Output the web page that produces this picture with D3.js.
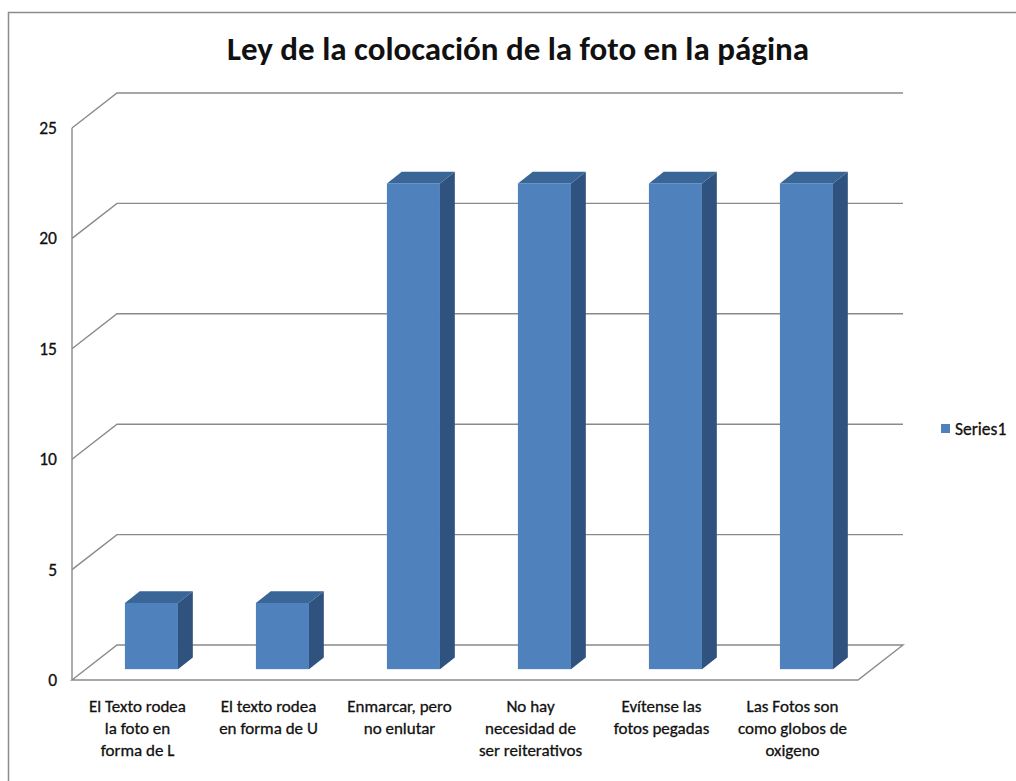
<!DOCTYPE html>
<html>
<head>
<meta charset="utf-8">
<script src="https://cdn.jsdelivr.net/npm/d3@7"></script>
<style>
  body { margin: 0; background: #fff; }
  text { font-family: Carlito, Lato, "Open Sans", sans-serif; fill: #111; }
  .lbl { stroke: #111; stroke-width: 0.3; }
</style>
</head>
<body>
<svg id="chart" width="1016" height="781"></svg>
<script>
// ----------- DATA ------------
const categories = [
    ["El Texto rodea", "la foto en", "forma de L"],
    ["El texto rodea", "en forma de U"],
    ["Enmarcar, pero", "no enlutar"],
    ["No hay", "necesidad de", "ser reiterativos"],
    ["Evítense las", "fotos pegadas"],
    ["Las Fotos son", "como globos de", "oxigeno"]
];
const values = [3, 3, 22, 22, 22, 22];
const yTicks = [0, 5, 10, 15, 20, 25];
const seriesName = "Series1";
const title = "Ley de la colocación de la foto en la página";

// ----------- LAYOUT ------------
const svg = d3.select("#chart");
const depthX = 45, depthY = -35;   // offset of the back wall
const barFront = 0.31, barBack = 0.64; // bar position inside the depth

const x = d3.scaleBand()
    .domain(d3.range(categories.length))
    .range([72, 858]);
const y = d3.scaleLinear()
    .domain([0, 25])
    .range([680, 128]);

const barW = x.bandwidth() * 0.405;
const gridColor = "#8a8a8a";

// chart frame (top and left edges)
svg.append("path")
    .attr("d", "M8.5,1016 L8.5,12.5 L1016,12.5")
    .attr("fill", "none")
    .attr("stroke", "#8c8c8c")
    .attr("stroke-width", 1.5);

// title
svg.append("text")
    .attr("x", 518)
    .attr("y", 60)
    .attr("text-anchor", "middle")
    .attr("font-size", 33)
    .attr("font-weight", "bold")
    .text(title);

// ----------- WALLS / GRID ------------
const grid = svg.append("g").attr("fill", "none").attr("stroke", gridColor).attr("stroke-width", 1.4);

yTicks.forEach(t => {
    if (t === 0) return;
    grid.append("path")
        .attr("d", `M${x.range()[0]},${y(t)} L${x.range()[0] + depthX},${y(t) + depthY} L${x.range()[1] + depthX},${y(t) + depthY}`);
});

// floor
grid.append("path")
    .attr("d", `M${x.range()[0]},${y(0)} L${x.range()[0] + depthX},${y(0) + depthY} L${x.range()[1] + depthX},${y(0) + depthY} L${x.range()[1]},${y(0)} Z`);

// vertical axis line
grid.append("line")
    .attr("x1", x.range()[0]).attr("x2", x.range()[0])
    .attr("y1", y(25)).attr("y2", y(0));

// y tick labels
svg.append("g").selectAll("text")
    .data(yTicks)
    .join("text")
    .attr("class", "lbl")
    .attr("x", 57)
    .attr("y", d => y(d) + 6)
    .attr("text-anchor", "end")
    .attr("font-size", 17.5)
    .text(d => d);

// ----------- BARS ------------
const bars = svg.append("g");
values.forEach((v, i) => {
    const cx = x(i) + x.bandwidth() / 2;
    const x0 = cx - barW / 2 + depthX * barFront;
    const x1 = x0 + barW;
    const yb = y(0) + depthY * barFront;
    const yt = y(v) + depthY * barFront;
    const dx = depthX * (barBack - barFront);
    const dy = depthY * (barBack - barFront);

    // side face
    bars.append("path")
        .attr("d", `M${x1},${yb} L${x1 + dx},${yb + dy} L${x1 + dx},${yt + dy} L${x1},${yt} Z`)
        .attr("fill", "#30527f");
    // top face
    bars.append("path")
        .attr("d", `M${x0},${yt} L${x0 + dx},${yt + dy} L${x1 + dx},${yt + dy} L${x1},${yt} Z`)
        .attr("fill", "#3a6597");
    // front face
    bars.append("rect")
        .attr("x", x0)
        .attr("y", yt)
        .attr("width", barW)
        .attr("height", yb - yt)
        .attr("fill", "#4f81bd");
});

// ----------- CATEGORY LABELS ------------
const labels = svg.append("g")
    .selectAll("text")
    .data(categories)
    .join("text")
    .attr("class", "lbl")
    .attr("text-anchor", "middle")
    .attr("font-size", 17);

labels.selectAll("tspan")
    .data((d, i) => d.map(line => ({ line, i })))
    .join("tspan")
    .attr("x", d => x(d.i) + x.bandwidth() / 2)
    .attr("y", (d, j) => 712 + j * 22)
    .text(d => d.line);

// ----------- LEGEND ------------
svg.append("rect")
    .attr("x", 941)
    .attr("y", 424)
    .attr("width", 9)
    .attr("height", 9)
    .attr("fill", "#4f81bd");
svg.append("text")
    .attr("class", "lbl")
    .attr("x", 955)
    .attr("y", 435)
    .attr("font-size", 17.5)
    .text(seriesName);
</script>
</body>
</html>
